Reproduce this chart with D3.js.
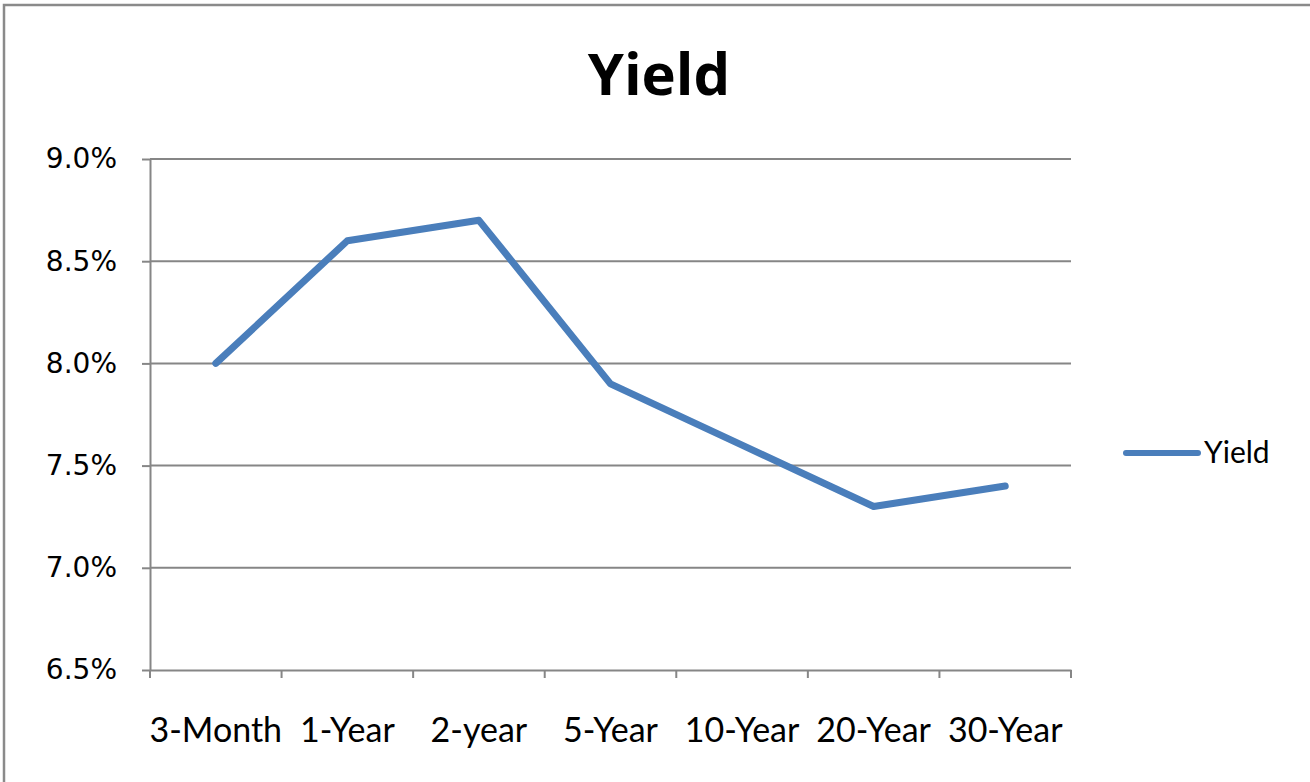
<!DOCTYPE html>
<html>
<head>
<meta charset="utf-8">
<script src="https://cdn.jsdelivr.net/npm/d3@7"></script>
<style>
  body { margin: 0; background: #fff; }
  text { font-family: Lato, "Open Sans", sans-serif; fill: #000; }
</style>
</head>
<body>
<div id="chart"></div>
<script>
var categories = ["3-Month", "1-Year", "2-year", "5-Year", "10-Year", "20-Year", "30-Year"];
var yieldValues = [8.0, 8.6, 8.7, 7.9, 7.6, 7.3, 7.4];
var yTicks = [6.5, 7.0, 7.5, 8.0, 8.5, 9.0];
var seriesName = "Yield";

var W = 1310, H = 782;
var margin = { top: 159, right: 239, bottom: 112, left: 150 },
    width = W - margin.left - margin.right,
    height = H - margin.top - margin.bottom;

var svg = d3.select("#chart")
    .append("svg")
    .attr("width", W)
    .attr("height", H);

// outer chart border
svg.append("rect")
    .attr("x", 4).attr("y", 5)
    .attr("width", W + 10).attr("height", H + 10)
    .attr("fill", "none")
    .attr("stroke", "#8a8a8a")
    .attr("stroke-width", 2.5);

svg.append("text")
    .attr("x", 659)
    .attr("y", 95)
    .attr("text-anchor", "middle")
    .style("font-family", "'Open Sans', Lato, sans-serif")
    .style("font-size", "58px")
    .style("font-weight", "bold")
    .text(seriesName);

var g = svg.append("g")
    .attr("transform", "translate(" + margin.left + "," + margin.top + ")");

var x = d3.scaleBand()
    .domain(categories)
    .range([0, width]);

var y = d3.scaleLinear()
    .domain([6.5, 9.0])
    .range([height, 0]);

// gridlines
g.selectAll(".grid")
    .data(yTicks.filter(d => d > 6.5))
    .enter()
    .append("line")
    .attr("x1", 0).attr("x2", width)
    .attr("y1", d => y(d)).attr("y2", d => y(d))
    .attr("stroke", "#868686")
    .attr("stroke-width", 2);

var yAxis = g.append("g")
    .call(d3.axisLeft(y).tickValues(yTicks).tickFormat(d => d.toFixed(1) + "%").tickSize(8).tickSizeOuter(0).tickPadding(25));

var xAxis = g.append("g")
    .attr("transform", "translate(0," + height + ")")
    .call(d3.axisBottom(x).tickSize(0).tickPadding(48));

// x ticks sit between the categories
xAxis.selectAll(".between")
    .data(d3.range(categories.length + 1))
    .enter()
    .append("line")
    .attr("x1", i => i * x.step()).attr("x2", i => i * x.step())
    .attr("y1", 0).attr("y2", 8)
    .attr("stroke", "#868686")
    .attr("stroke-width", 2);

[yAxis, xAxis].forEach(function(a) {
    a.select(".domain").attr("stroke", "#868686").attr("stroke-width", 2);
    a.selectAll(".tick line").attr("stroke", "#868686").attr("stroke-width", 2);
    a.selectAll(".tick text").attr("fill", "#000");
});
yAxis.selectAll(".tick text")
    .style("font-family", "'DejaVu Sans', Verdana, sans-serif")
    .style("font-size", "28px");
xAxis.selectAll(".tick text")
    .style("font-family", "Lato, sans-serif")
    .style("font-size", "34px");

var line = d3.line()
    .x((d, i) => x(categories[i]) + x.bandwidth() / 2)
    .y(d => y(d));

g.append("path")
    .datum(yieldValues)
    .attr("d", line)
    .attr("fill", "none")
    .attr("stroke", "#4A7EBB")
    .attr("stroke-width", 7)
    .attr("stroke-linejoin", "round")
    .attr("stroke-linecap", "round");

// legend
var legend = svg.append("g").attr("transform", "translate(1126,453)");
legend.append("line")
    .attr("x1", 0).attr("x2", 72)
    .attr("stroke", "#4A7EBB")
    .attr("stroke-width", 6)
    .attr("stroke-linecap", "round");
legend.append("text")
    .attr("x", 78)
    .attr("y", 10)
    .style("font-size", "30px")
    .text(seriesName);
</script>
</body>
</html>
